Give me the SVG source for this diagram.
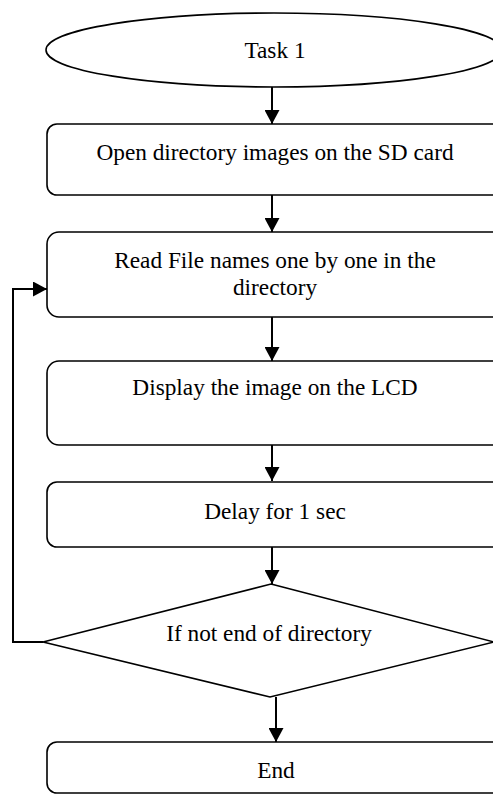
<svg xmlns="http://www.w3.org/2000/svg" width="493" height="795" viewBox="0 0 493 795">
<style>
.shape{fill:#fff;stroke:#000;stroke-width:1.6}
.t{font-family:"Liberation Serif","Times New Roman",serif;font-size:23.3px;text-anchor:middle;fill:#000}
.c{fill:none;stroke:#000;stroke-width:2}
</style>
<defs>
<marker id="ah" markerWidth="15" markerHeight="15" refX="14" refY="7.5" orient="auto" markerUnits="userSpaceOnUse">
<path d="M0,0 L14,7.5 L0,15 Z" fill="#000"/>
</marker>
</defs>
<rect width="493" height="795" fill="#fff"/>
<g id="connectors">
<path class="c" d="M272,87 V124" marker-end="url(#ah)"/>
<path class="c" d="M272,195 V232" marker-end="url(#ah)"/>
<path class="c" d="M272,317 V361" marker-end="url(#ah)"/>
<path class="c" d="M272,445 V481" marker-end="url(#ah)"/>
<path class="c" d="M272,547 V584" marker-end="url(#ah)"/>
<path class="c" d="M276,697 V742" marker-end="url(#ah)"/>
<path class="c" d="M43,642 H13 V289 H47" marker-end="url(#ah)"/>
</g>
<g id="start">
<ellipse class="shape" cx="274" cy="50" rx="228" ry="37" stroke-width="2"/>
<text class="t" x="275" y="58">Task 1</text>
</g>
<g id="open">
<rect class="shape" x="47" y="124" width="460" height="71" rx="10"/>
<text class="t" x="275" y="160">Open directory images on the SD card</text>
</g>
<g id="read">
<rect class="shape" x="47" y="232" width="460" height="85" rx="12"/>
<text class="t" x="275" y="268">Read File names one by one in the</text>
<text class="t" x="275" y="295">directory</text>
</g>
<g id="display">
<rect class="shape" x="47" y="361" width="460" height="84" rx="12"/>
<text class="t" x="275" y="395">Display the image on the LCD</text>
</g>
<g id="delay">
<rect class="shape" x="47" y="482" width="460" height="65" rx="10"/>
<text class="t" x="275" y="519">Delay for 1 sec</text>
</g>
<g id="decision">
<polygon class="shape" points="271,584 494,642 270,697 43,642"/>
<text class="t" x="269" y="641">If not end of directory</text>
</g>
<g id="end">
<rect class="shape" x="47" y="742" width="460" height="51" rx="10"/>
<text class="t" x="276" y="778">End</text>
</g>
</svg>
